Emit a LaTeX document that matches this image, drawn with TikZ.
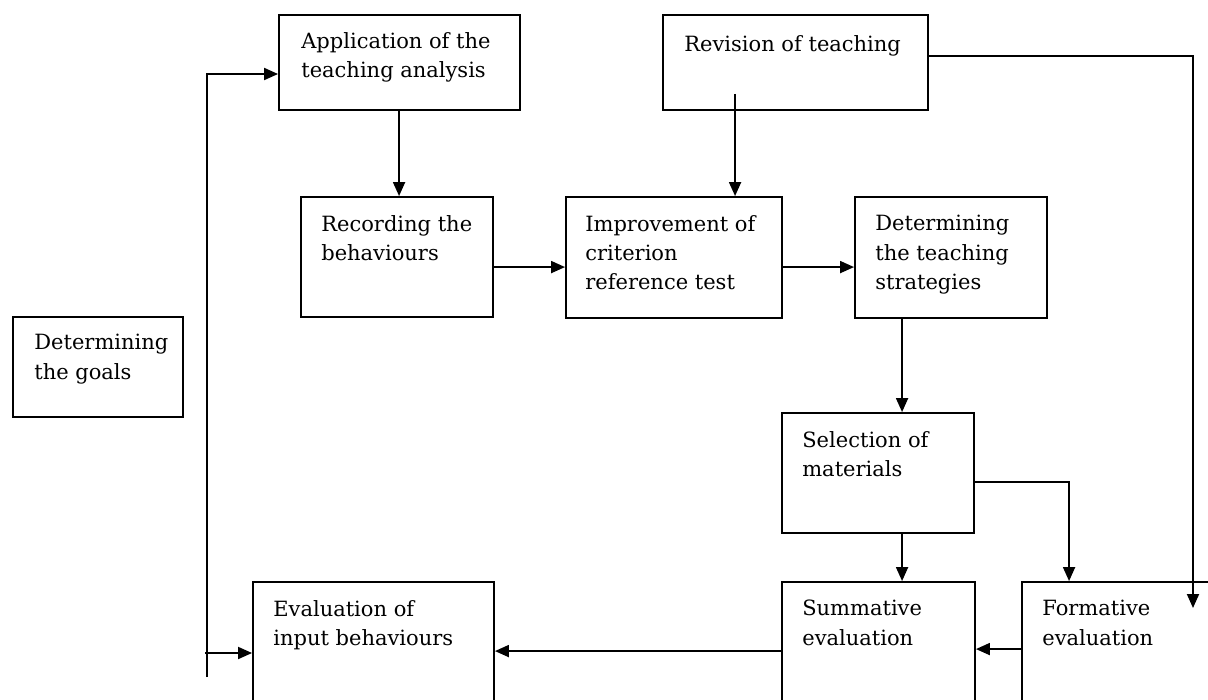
\documentclass[tikz,border=0pt]{standalone}
\usepackage{fontspec}
\setmainfont{DejaVu Serif}
\usetikzlibrary{arrows.meta,fit,calc}
\begin{document}
\begin{tikzpicture}[x=0.75pt,y=-0.75pt,
  box/.style={draw, line width=1.4pt, inner sep=0pt},
  lbl/.style={anchor=north west, align=left, inner sep=0pt, font=\fontsize{15.75}{22}\selectfont},
  arr/.style={line width=1.4pt, -{Triangle[length=10.5pt,width=9pt]}},
  ln/.style={line width=1.4pt}]
\useasboundingbox (0,0) rectangle (1208,700);
\clip (0,0) rectangle (1208,700);
% boxes
\node[box, fit={(13,317) (183,417)}] (goals) {};
\node[box, fit={(279,15) (520,110)}] (app) {};
\node[box, fit={(663,15) (928,110)}] (rev) {};
\node[box, fit={(301,197) (493,317)}] (rec) {};
\node[box, fit={(566,197) (782,318)}] (imp) {};
\node[box, fit={(855,197) (1047,318)}] (strat) {};
\node[box, fit={(782,413) (974,533)}] (sel) {};
\node[box, fit={(253,582) (494,720)}] (inp) {};
\node[box, fit={(782,582) (975,720)}] (sum) {};
\node[box, fit={(1022,582) (1230,720)}] (form) {};
% labels
\node[lbl] (goalsT) at ([shift={(22,18)}]goals.north west) {Determining\\the goals};
\node[lbl] (appT) at ([shift={(23,18)}]app.north west) {Application of the\\teaching analysis};
\node[lbl] (revT) at ([shift={(22,21)}]rev.north west) {Revision of teaching};
\node[lbl] (recT) at ([shift={(21,19)}]rec.north west) {Recording the\\behaviours};
\node[lbl] (impT) at ([shift={(20,19)}]imp.north west) {Improvement of\\criterion\\reference test};
\node[lbl] (stratT) at ([shift={(21,19)}]strat.north west) {Determining\\the teaching\\strategies};
\node[lbl] (selT) at ([shift={(21,19)}]sel.north west) {Selection of\\materials};
\node[lbl] (inpT) at ([shift={(21,19)}]inp.north west) {Evaluation of\\input behaviours};
\node[lbl] (sumT) at ([shift={(21,19)}]sum.north west) {Summative\\evaluation};
\node[lbl] (formT) at ([shift={(21,19)}]form.north west) {Formative\\evaluation};
% free ends
\coordinate (lb) at (207,677);
\coordinate (lt) at (207,74);
\coordinate (lm) at (205,653);
\coordinate (rr) at (1193,608);
% connectors
\draw[arr] (lb) -- (lt) -- (lt -| app.west);
\draw[arr] (lm) -- (lm -| inp.west);
\path (app.south west) ++(121,0) coordinate (p1);
\draw[arr] (p1) -- (p1 |- rec.north);
\path (rev.south west) ++(73,-17) coordinate (r1);
\draw[arr] (r1) -- (r1 |- imp.north);
\path (rev.north east) ++(0,42) coordinate (r2);
\draw[arr] (r2) -| (rr);
\path (rec.north east) ++(0,71) coordinate (a1);
\draw[arr] (a1) -- (a1 -| imp.west);
\path (imp.north east) ++(0,71) coordinate (a2);
\draw[arr] (a2) -- (a2 -| strat.west);
\path (sel.north west) ++(121,0) coordinate (s1);
\draw[arr] (s1 |- strat.south) -- (s1);
\path (sel.south west) ++(121,0) coordinate (s3);
\draw[arr] (s3) -- (s3 |- sum.north);
\path (form.north west) ++(48,0) coordinate (f1);
\path (sel.north east) ++(0,70) coordinate (s4);
\draw[arr] (s4) -| (f1);
\path (form.north west) ++(0,68) coordinate (f2);
\draw[arr] (f2) -- (f2 -| sum.east);
\path (sum.north west) ++(0,70) coordinate (s2);
\draw[arr] (s2) -- (s2 -| inp.east);
\end{tikzpicture}
\end{document}
